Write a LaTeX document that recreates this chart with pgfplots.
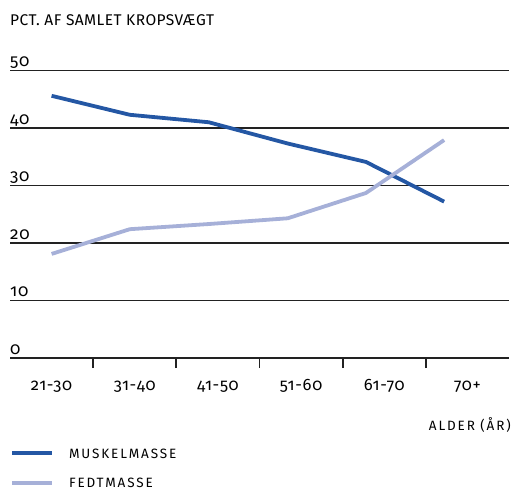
\documentclass[border=0pt]{standalone}
\usepackage{pgfplots}
\pgfplotsset{compat=1.18}
\usepackage{fontspec}
\setmainfont{Fira Sans}[Numbers=OldStyle]
\newfontfamily\titlefont{Fira Sans}[Numbers=OldStyle, LetterSpace=3]
\newfontfamily\capsfont{Fira Sans}[Numbers=OldStyle, LetterSpace=14]
\newfontfamily\numfont{Fira Sans}[Numbers=OldStyle, LetterSpace=4]

\definecolor{muskel}{HTML}{2457A4}
\definecolor{fedt}{HTML}{A6B0D8}
\definecolor{rule}{HTML}{222222}

% Andel af samlet kropsvaegt efter alder
\pgfplotstableread{
x     muskel  fedt
0.00  45.6    18.1
0.94  42.3    22.4
1.89  41.0    23.3
2.84  37.3    24.3
3.78  34.1    28.7
4.72  27.2    37.9
}\kropsdata

\begin{document}
\begin{tikzpicture}
\begin{axis}[
  at={(10pt,133pt)}, anchor=south west,
  scale only axis, width=499pt, height=287.5pt,
  xmin=-0.5, xmax=5.5, ymin=0, ymax=50,
  clip=false,
  axis line style={draw=none},
  /pgf/number format/assume math mode=true,
  ytick={0,10,...,50},
  ymajorgrids,
  grid style={rule, line width=1.7pt},
  major tick length=0pt,
  yticklabel style={anchor=base west, inner sep=0pt, yshift=4pt,
    font=\numfont\fontsize{17}{17}\selectfont},
  xtick={0,...,5},
  xticklabels={21-30,31-40,41-50,51-60,61-70,70+},
  xtick pos=left,
  xticklabel style={anchor=base, inner sep=0pt, yshift=-32pt,
    font=\numfont\fontsize{16.5}{16.5}\selectfont},
  extra x ticks={0.5,1.5,2.5,3.5,4.5},
  extra x tick labels={},
  extra x tick style={major tick length=10pt, tick align=outside,
    tick style={rule, line width=1.7pt}},
  legend cell align=left,
  legend style={at={(rel axis cs:0,0)}, anchor=north west, yshift=-90pt,
    draw=none, fill=none, inner sep=0pt, column sep=15pt, row sep=19.5pt,
    nodes={inner sep=0pt, text height=10pt, text depth=0pt},
    font=\capsfont\fontsize{13.5}{13.5}\selectfont},
  legend image code/.code={\draw[#1] (0pt,0pt) -- (40pt,0pt);},
]
\addplot[muskel, line width=3.8pt, line join=round] table[x=x, y=muskel] {\kropsdata};
\addlegendentry{MUSKELMASSE}
\addplot[fedt, line width=3.8pt, line join=round] table[x=x, y=fedt] {\kropsdata};
\addlegendentry{FEDTMASSE}

\node[anchor=base west, inner sep=0pt, yshift=45.5pt,
  font=\titlefont\fontsize{15.5}{15.5}\selectfont]
  at (rel axis cs:0,1) {PCT. AF SAMLET KROPSVÆGT};
\node[anchor=base east, inner sep=0pt, xshift=2pt, yshift=-72pt,
  font=\capsfont\fontsize{13.5}{13.5}\selectfont]
  at (rel axis cs:1,0) {ALDER (ÅR)};
\end{axis}
\pgfresetboundingbox
\useasboundingbox (0pt,0pt) rectangle (513pt,491pt);
\end{tikzpicture}
\end{document}
